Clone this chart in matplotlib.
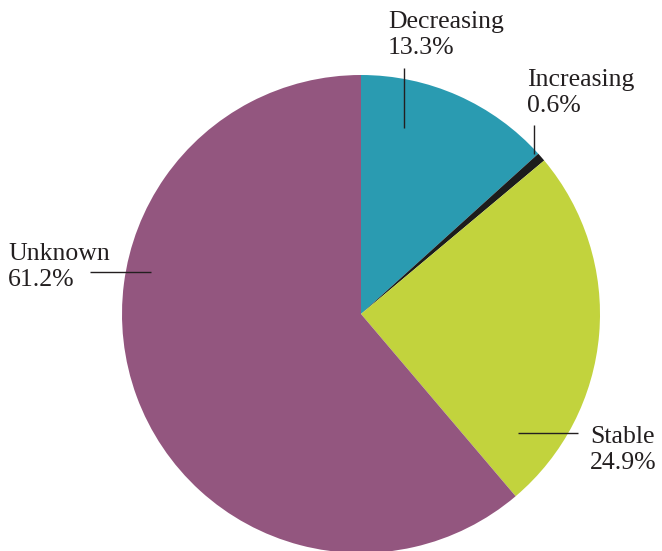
import matplotlib
matplotlib.use("Agg")
import matplotlib.pyplot as plt

categories = ["Decreasing", "Increasing", "Stable", "Unknown"]
values = [13.3, 0.6, 24.9, 61.2]
colors = ["#2a9bb1", "#1c1c1c", "#c2d33d", "#93567f"]

W, H = 662, 551
fig = plt.figure(figsize=(W / 100, H / 100), dpi=100)
ax = fig.add_axes([0, 0, 1, 1])

cx, cy, r = 361, H - 314, 239
ax.pie(values, colors=colors, startangle=90, counterclock=False,
       center=(cx, cy), radius=r, frame=True,
       wedgeprops=dict(linewidth=0))
ax.set_xlim(0, W)
ax.set_ylim(0, H)
ax.set_aspect("equal")
ax.axis("off")

tc = "#231f20"
font = dict(family="Liberation Serif", fontsize=18.5, color=tc, linespacing=1.22)

# label positions (pixel coords, top-down y), leader lines
labels = [
    (388, 11, [(404, 68), (404, 128)]),
    (527, 69, [(534, 125), (534, 154)]),
    (590, 426, [(518, 433), (578, 433)]),
    (8, 243, [(90, 272), (151, 272)]),
]
for (name, val), (tx, ty, line) in zip(zip(categories, values), labels):
    ax.text(tx, H - ty, f"{name}\n{val:.1f}%", ha="left", va="top", **font)
    (x0, y0), (x1, y1) = line
    ax.plot([x0, x1], [H - y0, H - y1], color=tc, lw=1.0, solid_capstyle="butt")

fig.savefig("out.png", dpi=100)
